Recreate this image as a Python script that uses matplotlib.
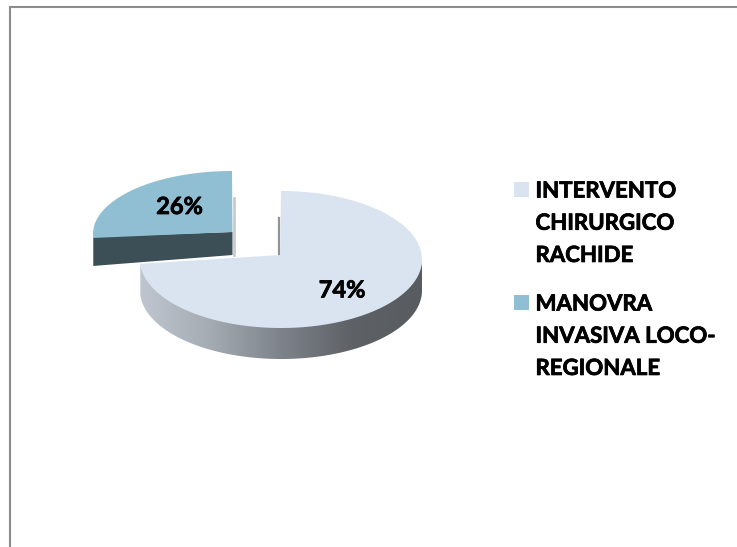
import numpy as np
import matplotlib
matplotlib.use("Agg")
import matplotlib.pyplot as plt
import matplotlib.patheffects as pe
from matplotlib.colors import LinearSegmentedColormap
from matplotlib.patches import Polygon

categories = ["INTERVENTO\nCHIRURGICO\nRACHIDE", "MANOVRA\nINVASIVA LOCO-\nREGIONALE"]
values = [74, 26]
pct_labels = ["74%", "26%"]
colors = ["#DAE4F0", "#90BFD3"]

W, H = 737, 547
plt.rcParams['font.family'] = ['Lato', 'DejaVu Sans']
fig = plt.figure(figsize=(W / 100, H / 100), dpi=100)
ax = fig.add_axes([0, 0, 1, 1])
ax.axis("off")

# frame
ax.plot([10.5, 10.5, W], [H, 6.5, 6.5], color="#8C8C8C", lw=1.5, solid_joinstyle="miter")

fracs = np.array(values) / sum(values)
split = np.pi / 2 - 2 * np.pi * fracs[0]  # clockwise from 12 o'clock


def arc(cx, cy, rx, ry, t0, t1, n=240):
    t = np.linspace(t0, t1, n)
    return cx + rx * np.cos(t), cy - ry * np.sin(t)


# --- exploded slice (26%)
cx2, cy2, rx2, ry2 = 232, 234, 139, 63
apex2 = (232.5, 232)
x2, y2 = arc(cx2, cy2, rx2, ry2, split + 2 * np.pi, np.pi / 2)
ax.plot([234, 234], [198, 255], color="#B4B4B4", lw=2, alpha=0.7, zorder=1)
ax.fill([apex2[0], x2[0], x2[0], apex2[0]],
        [apex2[1], y2[0] - 1, y2[0] + 28, apex2[1] + 23],
        color="#3C4E56", lw=0, zorder=2)
ax.fill(np.r_[apex2[0], x2], np.r_[apex2[1], y2], color=colors[1], lw=0, zorder=3)

# --- main slice (74%)
cx1, cy1, rx1, ry1, depth = 281, 259.5, 141, 68.5, 31
apex1 = (280, 255)
ax.plot([279, 279], [218, 256], color="#808080", lw=1.6, alpha=0.85, zorder=4)

grad = LinearSegmentedColormap.from_list(
    "wall", ["#BFC6CF", "#A4ABB3", "#7E838B", "#5E6166", "#585B5F"])
xw, yw = arc(cx1, cy1, rx1, ry1, split + 2 * np.pi, 2 * np.pi)
wall = Polygon(np.c_[np.r_[xw, xw[::-1]], np.r_[yw - 1, yw[::-1] + depth]],
               closed=True, transform=ax.transData, fc="none", ec="none")
ax.add_patch(wall)
im = ax.imshow(np.linspace(0, 1, 256)[None, :], cmap=grad, aspect="auto",
               extent=(xw.min(), xw.max(), yw.max() + depth, yw.min() - 1),
               zorder=5, interpolation="bilinear")
im.set_clip_path(wall)
x1, y1 = arc(cx1, cy1, rx1, ry1, np.pi / 2, split)
ax.fill(np.r_[apex1[0], x1], np.r_[apex1[1], y1], color=colors[0], lw=0, zorder=6)

heavy = [pe.withStroke(linewidth=0.55, foreground="black")]

# percentage labels
ax.text(342, 290, pct_labels[0], fontsize=17, fontweight="bold", color="black",
        ha="center", va="center", zorder=8, path_effects=heavy)
ax.text(179.5, 206.5, pct_labels[1], fontsize=17, fontweight="bold", color="black",
        ha="center", va="center", zorder=8, path_effects=heavy)

# legend
for (sy, ty, c, lab) in zip([182, 295], [180.5, 293.5], colors, categories):
    ax.fill([514, 529, 529, 514], [sy, sy, sy + 15, sy + 15], color=c, lw=0)
    ax.text(535.5, ty, lab, fontsize=16, fontweight="bold", color="black",
            ha="left", va="top", linespacing=1.66, path_effects=heavy)

ax.set_xlim(0, W)
ax.set_ylim(H, 0)
fig.savefig("out.png", dpi=100)
